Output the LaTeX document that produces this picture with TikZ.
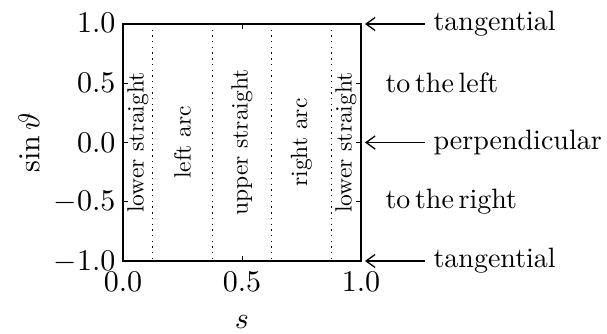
\documentclass[tikz,border=0pt]{standalone}
\usetikzlibrary{arrows.meta}
\begin{document}
\begin{tikzpicture}[x=1pt,y=-1pt,
  ticklab/.style={font=\normalsize, inner sep=0pt, scale=3.0},
  big/.style={font=\normalsize, inner sep=0pt, scale=2.8},
  inner/.style={font=\normalsize, inner sep=0pt, scale=2.35, rotate=90},
  frame/.style={line width=1.6pt},
  divider/.style={line width=1.4pt, dash pattern=on 1.4pt off 4.3pt},
  tick/.style={line width=1pt},
  pointer/.style={line width=1.3pt, -{Straight Barb[length=9pt,width=13pt,line width=1.3pt]}}]
\useasboundingbox (0,0) rectangle (607,334);
% box corners
\coordinate (bl) at (123,261);
\coordinate (tr) at (361,24);
% dividers
\foreach \s/\n in {0.125/d1,0.375/d2,0.625/d3,0.875/d4}{
  \coordinate (\n t) at ({123+238*\s},24);
  \coordinate (\n b) at ({123+238*\s},261);
  \draw[divider] (\n t) -- (\n b);
}
% ticks
\foreach \v in {0.5,0,-0.5}{
  \draw[tick] (123,{142.5-118.5*\v}) -- ++(5,0);
  \draw[tick] (361,{142.5-118.5*\v}) -- ++(-5,0);
}
\draw[tick] (242,24) -- ++(0,5);
\draw[tick] (242,261) -- ++(0,-5);
\draw[frame] (bl) rectangle (tr);
% y tick labels
\node[ticklab, anchor=east] (y1) at (116,23) {$1.0$};
\node[ticklab, anchor=east] (y2) at (116,82.5) {$0.5$};
\node[ticklab, anchor=east] (y3) at (116,142.5) {$0.0$};
\node[ticklab, anchor=east] (y4) at (116,202) {$-0.5$};
\node[ticklab, anchor=east] (y5) at (116,262) {$-1.0$};
% x tick labels
\node[ticklab] (x1) at (123,282) {$0.0$};
\node[ticklab] (x2) at (242,282) {$0.5$};
\node[ticklab] (x3) at (361,282) {$1.0$};
% axis labels
\node[ticklab] (xl) at (242,322) {$s$};
\node[ticklab, rotate=90] (yl) at (29,143) {$\sin\vartheta$};
% inner labels
\node[inner] (l1) at (138,142.5) {lower straight};
\node[inner] (l2) at (182.5,142.5) {left arc};
\node[inner] (l3) at (242,142.5) {upper straight};
\node[inner] (l4) at (301.5,142.5) {right arc};
\node[inner] (l5) at (346,142.5) {lower straight};
% right side
\node[big, anchor=west] (t1) at (433,24) {tangential};
\node[big, anchor=west] (t2) at (385,83) {to\,the\,left};
\node[big, anchor=west] (t3) at (433,142.5) {perpendicular};
\node[big, anchor=west] (t4) at (385,202) {to\,the\,right};
\node[big, anchor=west] (t5) at (433,261) {tangential};
\coordinate (a1) at (365,24);
\coordinate (a3) at (365,142.5);
\coordinate (a5) at (365,261);
\draw[pointer] ([xshift=-8pt]t1.west) -- (a1);
\draw[pointer] ([xshift=-8pt]t3.west) -- (a3);
\draw[pointer] ([xshift=-8pt]t5.west) -- (a5);
\end{tikzpicture}
\end{document}
